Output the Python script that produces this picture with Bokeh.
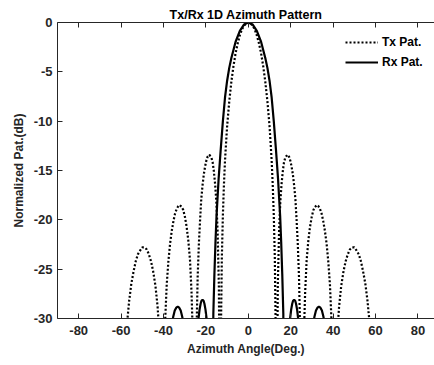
from bokeh.plotting import figure
from bokeh.models import Range1d, LinearAxis, FixedTicker, Legend, LegendItem
from bokeh.embed import file_html
from bokeh.resources import INLINE

# ---- data (azimuth in degrees, normalized pattern in dB) ----
tx_angle_left = [-90, -60.3, -58.2, -57.2, -56.2, -55.2, -54.1, -53.1, -52.1, -51.0, -50.0, -48.9, -47.9, -46.9,
                 -45.9, -44.9, -43.8, -42.8, -41.8, -40.9,
                 -40.5, -40.0, -39.2, -38.5, -37.7, -36.9, -36.1, -35.3, -34.6, -33.8, -33.0, -32.4, -31.4, -30.7,
                 -29.9, -29.1, -28.3, -27.5, -26.8, -26.0,
                 -25.1, -24.5, -23.9, -23.3, -22.7, -22.2, -21.6, -21.0, -20.4, -19.8, -19.2, -18.4, -17.4, -16.8,
                 -16.3, -15.7, -15.1, -14.5, -13.9,
                 -13.3, -13, -12.5, -12, -11.5, -11, -10.5, -10, -9, -8, -7, -6, -5, -4, -3, -2, -1]
tx_db_left = [-45, -45, -34.0, -30.5, -28.2, -26.5, -25.2, -24.2, -23.5, -23.1, -22.8, -22.8, -23.0, -23.5,
              -24.2, -25.2, -26.7, -28.8, -32.0, -36.0,
              -45, -36.1, -30.1, -26.6, -24.2, -22.4, -21.1, -20.1, -19.4, -18.9, -18.6, -18.5, -18.7, -19.0,
              -19.7, -20.7, -22.1, -24.1, -27.3, -33.0,
              -45, -32.0, -25.8, -22.3, -19.8, -17.9, -16.5, -15.4, -14.6, -14.0, -13.6, -13.4, -13.7, -14.2,
              -15.0, -16.3, -18.1, -21.1, -26.6,
              -45, -32.8, -23.9, -19.5, -16.4, -14.0, -12.2, -10.5, -8.0, -6.0, -4.4, -3.1, -2.1, -1.3, -0.7, -0.3, -0.1]
tx_angle_right = [0, 1, 2, 3, 4, 5, 6, 7, 8, 9, 10, 10.5, 11, 11.5, 12, 12.5, 13, 13.3,
                  13.9, 14.5, 15.1, 15.7, 16.3, 16.8, 17.4, 18.4, 19.2, 19.8, 20.4, 21.0, 21.6, 22.2, 22.7, 23.3,
                  23.9, 24.5, 25.1,
                  26.0, 26.8, 27.5, 28.3, 29.1, 29.9, 30.7, 31.4, 32.4, 33.0, 33.8, 34.6, 35.3, 36.1, 36.9, 37.7,
                  38.5, 39.2, 40.0, 40.5,
                  40.9, 41.8, 42.8, 43.8, 44.9, 45.9, 46.9, 47.9, 48.9, 50.0, 51.0, 52.1, 53.1, 54.1, 55.2, 56.2,
                  57.2, 58.2, 60.3, 90]
tx_db_right = [0, -0.1, -0.3, -0.7, -1.3, -2.1, -3.1, -4.4, -6.0, -8.0, -10.5, -12.2, -14.0, -16.4, -19.5, -23.9,
               -32.8, -45,
               -26.6, -21.1, -18.1, -16.3, -15.0, -14.2, -13.7, -13.4, -13.6, -14.0, -14.6, -15.4, -16.5, -17.9,
               -19.8, -22.3, -25.8, -32.0, -45,
               -33.0, -27.3, -24.1, -22.1, -20.7, -19.7, -19.0, -18.7, -18.5, -18.6, -18.9, -19.4, -20.1, -21.1,
               -22.4, -24.2, -26.6, -30.1, -36.1, -45,
               -36.0, -32.0, -28.8, -26.7, -25.2, -24.2, -23.5, -23.0, -22.8, -22.8, -23.1, -23.5, -24.2, -25.2,
               -26.5, -28.2, -30.5, -34.0, -45, -45]

rx_angle_left = [-90, -40.3, -37.5, -36.1, -35.4, -34.7, -34.0, -33.3, -32.6, -31.9, -31.2, -30.5, -29.1,
                 -26.3, -24.4, -23.5, -23.0, -22.5, -22.1, -21.6, -21.1, -20.7, -20.2, -19.7, -18.8,
                 -17, -16.5, -16, -15.5, -15, -14, -13, -12, -11, -10, -9, -8, -6, -4, -2]
rx_db_left = [-45, -45, -33.4, -30.6, -29.8, -29.2, -28.9, -28.8, -28.9, -29.2, -29.8, -30.6, -33.4,
              -45, -32.7, -30.0, -29.1, -28.5, -28.2, -28.1, -28.2, -28.5, -29.1, -30.0, -32.7,
              -45, -29.5, -25.5, -22.3, -19.6, -15.8, -12.8, -10.0, -7.6, -5.9, -4.6, -3.6, -1.95, -0.85, -0.2]
rx_angle_right = [0, 2, 4, 6, 8, 9, 10, 11, 12, 13, 14, 15, 15.5, 16, 16.5, 17,
                  18.8, 19.7, 20.2, 20.7, 21.1, 21.6, 22.1, 22.5, 23.0, 23.5, 24.4, 26.3,
                  29.1, 30.5, 31.2, 31.9, 32.6, 33.3, 34.0, 34.7, 35.4, 36.1, 37.5, 40.3, 90]
rx_db_right = [0, -0.2, -0.85, -1.95, -3.6, -4.6, -5.9, -7.6, -10.0, -12.8, -15.8, -19.6, -22.3, -25.5, -29.5, -45,
               -32.7, -30.0, -29.1, -28.5, -28.2, -28.1, -28.2, -28.5, -29.1, -30.0, -32.7, -45,
               -33.4, -30.6, -29.8, -29.2, -28.9, -28.8, -28.9, -29.2, -29.8, -30.6, -33.4, -45, -45]

x_ticks = [-80, -60, -40, -20, 0, 20, 40, 60, 80]
x_tick_labels = ["-80", "-60", "-40", "-20", "0", "20", "40", "60", "80"]
y_ticks = [-30, -25, -20, -15, -10, -5, 0]
y_tick_labels = ["-30", "-25", "-20", "-15", "-10", "-5", "0"]
series_labels = ["Tx Pat.", "Rx Pat."]

tx_angle = tx_angle_left + tx_angle_right
tx_db = tx_db_left + tx_db_right
rx_angle = rx_angle_left + rx_angle_right
rx_db = rx_db_left + rx_db_right

FONT = "Liberation Sans"
TXT = "#262626"

p = figure(width=434, height=365, output_backend="svg", toolbar_location=None,
           x_range=Range1d(-90, 87.8), y_range=Range1d(-30, 0),
           title="Tx/Rx 1D Azimuth Pattern",
           min_border_left=57, min_border_right=0, min_border_top=22, min_border_bottom=47)
p.outline_line_color = None
p.xgrid.visible = False
p.ygrid.visible = False
p.background_fill_color = "white"
p.border_fill_color = "white"

p.title.align = "center"
p.title.text_font = FONT
p.title.text_font_style = "bold"
p.title.text_font_size = "12.5px"
p.title.text_color = "#000000"
p.title.standoff = 2

tx = p.line(tx_angle, tx_db, line_color="black", line_width=2.2, line_dash="2 2")
rx = p.line(rx_angle, rx_db, line_color="black", line_width=2.2)

for ax in (p.xaxis[0], p.yaxis[0]):
    ax.major_tick_in = 5
    ax.major_tick_out = 0
    ax.minor_tick_line_color = None
    ax.axis_line_color = TXT
    ax.major_tick_line_color = TXT
    ax.major_label_text_font = FONT
    ax.major_label_text_font_style = "bold"
    ax.major_label_text_font_size = "13px"
    ax.major_label_text_color = TXT
    ax.axis_label_text_font = FONT
    ax.axis_label_text_font_style = "bold"
    ax.axis_label_text_font_size = "12px"
    ax.axis_label_text_color = TXT

p.xaxis[0].ticker = FixedTicker(ticks=x_ticks)
p.yaxis[0].ticker = FixedTicker(ticks=y_ticks)
p.xaxis[0].major_label_overrides = dict(zip(x_ticks, x_tick_labels))
p.yaxis[0].major_label_overrides = dict(zip(y_ticks, y_tick_labels))
p.xaxis[0].axis_label = "Azimuth Angle(Deg.)"
p.yaxis[0].axis_label = "Normalized Pat.(dB)"
p.xaxis[0].major_label_standoff = 7
p.yaxis[0].major_label_standoff = 5
p.xaxis[0].axis_label_standoff = 4
p.yaxis[0].axis_label_standoff = 5

# top border of the box, with inward ticks and no labels
top = LinearAxis(ticker=FixedTicker(ticks=x_ticks),
                 major_label_overrides={t: "" for t in x_ticks})
top.major_tick_in = 5
top.major_tick_out = 0
top.minor_tick_line_color = None
top.axis_line_color = TXT
top.major_tick_line_color = TXT
top.major_label_standoff = 0
p.add_layout(top, "above")

legend = Legend(items=[LegendItem(label=series_labels[0], renderers=[tx]),
                       LegendItem(label=series_labels[1], renderers=[rx])],
                location=(288, 246))
legend.glyph_width = 33
legend.glyph_height = 20
legend.label_height = 20
legend.label_standoff = 4
legend.padding = 0
legend.margin = 0
legend.spacing = 0
legend.border_line_alpha = 0
legend.background_fill_alpha = 0
legend.label_text_font = FONT
legend.label_text_font_style = "bold"
legend.label_text_font_size = "12px"
legend.label_text_color = "#000000"
p.add_layout(legend)

open("out.html", "w").write(file_html(p, INLINE))
